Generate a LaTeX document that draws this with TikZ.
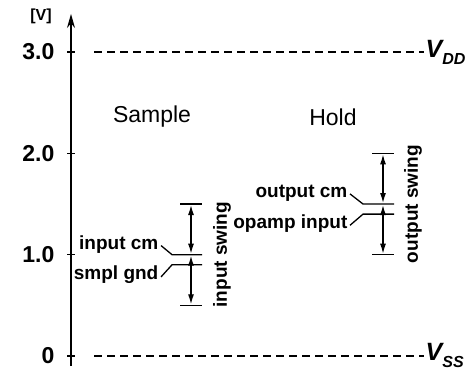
\documentclass[tikz,border=0pt]{standalone}
\usepackage{fontspec}
\setmainfont{Liberation Sans}
\usetikzlibrary{arrows.meta,positioning}

\begin{document}
\begin{tikzpicture}[x=1pt, y=101.3pt, line width=1.3pt,
    lbl/.style={font=\fontsize{19}{19}\selectfont\bfseries, inner sep=1pt},
    ticklbl/.style={font=\fontsize{23}{23}\selectfont\bfseries, anchor=east, inner sep=0pt},
    unitlbl/.style={font=\fontsize{16}{16}\selectfont\bfseries, inner sep=0pt},
    phase/.style={font=\fontsize{23}{23}\selectfont},
    swing/.style={{Latex[length=10pt,width=6pt]}-{Latex[length=10pt,width=6pt]}, shorten <=1pt, shorten >=1pt},
    rail/.style={dash pattern=on 8pt off 5pt},
    supply/.style={font=\fontsize{25}{25}\selectfont\bfseries\itshape, anchor=west, inner sep=1pt}]
  \useasboundingbox (0,-0.207) rectangle (476,3.514);

  % voltage axis
  \coordinate (ax0) at (71,-0.1);
  \coordinate (ax1) at (71,3.376);
  \draw[line width=1.6pt, -{Stealth[length=14pt,width=8pt]}] (ax0) -- (ax1);
  \node[unitlbl] (unit) at (41,3.35) {\lbrack V\rbrack};
  \foreach \v/\t in {0/0,1/1.0,2/2.0,3/3.0} {
    \draw (67,\v) -- (75,\v);
    \node[ticklbl] (t\v) at (55,\v) {\t};
  }

  % supply rails
  \node[supply] (vdd) at (424,3) {V\raisebox{-7pt}{\fontsize{16}{16}\selectfont DD}};
  \node[supply] (vss) at (424,0) {V\raisebox{-7pt}{\fontsize{16}{16}\selectfont SS}};
  \coordinate (vddl) at (94,3);
  \coordinate (vssl) at (94,0);
  \draw[rail] (vddl) -- (vdd.west);
  \draw[rail] (vssl) -- (vss.west);

  \node[phase] (sample) at (152,2.36) {Sample};
  \node[phase] (hold) at (333,2.36) {Hold};

  % sample phase
  \coordinate (intop) at (191,1.5);
  \coordinate (inbot) at (191,0.5);
  \draw ([xshift=-11pt]intop) -- ([xshift=11pt]intop);
  \draw ([xshift=-11pt]inbot) -- ([xshift=11pt]inbot);
  \draw[swing] (191,1) -- (intop);
  \draw[swing] (191,1) -- (inbot);
  \node[lbl, rotate=90] (inswing) at (222,1.0) {input swing};

  \node[lbl, anchor=east] (incm) at (160,1.10) {input cm};
  \node[lbl, anchor=east] (smpl) at (160,0.80) {smpl gnd};
  \coordinate (incmA) at (172,1.0);
  \coordinate (incmB) at (202,1.0);
  \coordinate (smplA) at (172,0.9);
  \coordinate (smplB) at (202,0.9);
  \draw (161,1.09) -- (incmA) -- (incmB);
  \draw (161,0.78) -- (smplA) -- (smplB);

  % hold phase
  \coordinate (outtop) at (383,2.0);
  \coordinate (outbot) at (383,1.0);
  \draw ([xshift=-11pt]outtop) -- ([xshift=11pt]outtop);
  \draw ([xshift=-11pt]outbot) -- ([xshift=11pt]outbot);
  \draw[swing] (383,1.5) -- (outtop);
  \draw[swing] (383,1.5) -- (outbot);
  \node[lbl, rotate=90] (outswing) at (413,1.5) {output swing};

  \node[lbl, anchor=east] (outcm) at (349,1.61) {output cm};
  \node[lbl, anchor=east] (opin) at (349,1.31) {opamp input};
  \coordinate (outcmA) at (363,1.5);
  \coordinate (outcmB) at (394,1.5);
  \coordinate (opinA) at (363,1.4);
  \coordinate (opinB) at (394,1.4);
  \draw (350,1.60) -- (outcmA) -- (outcmB);
  \draw (350,1.29) -- (opinA) -- (opinB);
\end{tikzpicture}
\end{document}
